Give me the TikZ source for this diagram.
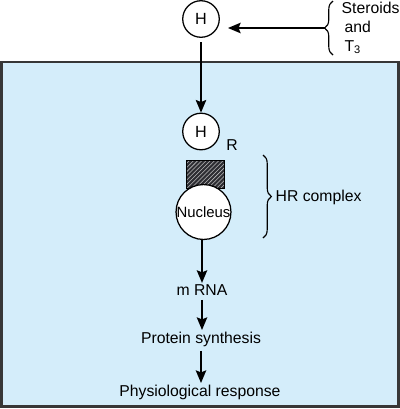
\documentclass[tikz,border=0pt]{standalone}
\usepackage{fontspec}
\setmainfont{Liberation Sans}
\usetikzlibrary{arrows.meta,patterns,decorations.pathreplacing}
\definecolor{cellblue}{RGB}{212,237,250}
\definecolor{cellline}{RGB}{55,55,55}
\definecolor{hatchdark}{RGB}{45,45,50}

\tikzset{
  hormone/.style={circle,draw=black,line width=.9pt,fill=white,minimum size=26pt,inner sep=0pt,font=\fontsize{11.5}{13}\selectfont},
  flow/.style={line width=1pt,-{Stealth[length=9pt,width=7.5pt,inset=1.5pt]}},
  lbl/.style={font=\fontsize{11.2}{13.4}\selectfont,inner sep=1pt},
  curly/.style={decorate,decoration={brace,amplitude=6pt},line width=.8pt},
}

\begin{document}
\begin{tikzpicture}[x=0.025cm,y=-0.025cm]
\useasboundingbox (0,0) rectangle (400,409);
\path[fill=cellblue,draw=cellline,line width=1.6pt] (1.5,62) rectangle (398.5,406.5);
\node[hormone] (htop) at (201,19) {H};
\node[hormone] (hin) at (201,131.5) {H};
\node[lbl] (rlabel) at (232,145) {R};
\path[preaction={fill=hatchdark},pattern={north east lines},pattern color=gray!55,draw=black,line width=.7pt] (186,160) rectangle (224,188);
\node[hormone,minimum size=39pt,font=\fontsize{10.6}{12}\selectfont] (nucleus) at (203.5,212) {Nucleus};
\node[lbl] (mrna) at (202,290) {m RNA};
\node[lbl] (protein) at (201,339) {Protein synthesis};
\node[lbl] (response) at (200,392) {Physiological response};
% braces
\draw[curly] (333,55) -- (333,1) coordinate[midway,xshift=-6pt] (steroidtip);
\node[lbl,anchor=west,align=left] (steroids) at (340,28) {Steroids\\ \hspace*{2pt}and\\ \hspace*{2pt}T\textsubscript{3}};
\draw[curly] (263,155) -- (263,238) coordinate[midway,xshift=6pt] (hrtip);
\node[lbl,anchor=west] (hrcomplex) at (274,197) {HR complex};
\coordinate (hin_tip) at (228,28);
% arrows
\draw[flow] (steroidtip) -- (hin_tip);
\draw[flow] ([yshift=-3pt]htop.south) -- (hin.north);
\draw[flow] (nucleus.south -| mrna) -- (mrna.north);
\draw[flow] ([yshift=-2pt]mrna.south) -- (mrna.south |- protein.north);
\draw[flow] ([yshift=-2pt]protein.south) -- (protein.south |- response.north);
\end{tikzpicture}
\end{document}
